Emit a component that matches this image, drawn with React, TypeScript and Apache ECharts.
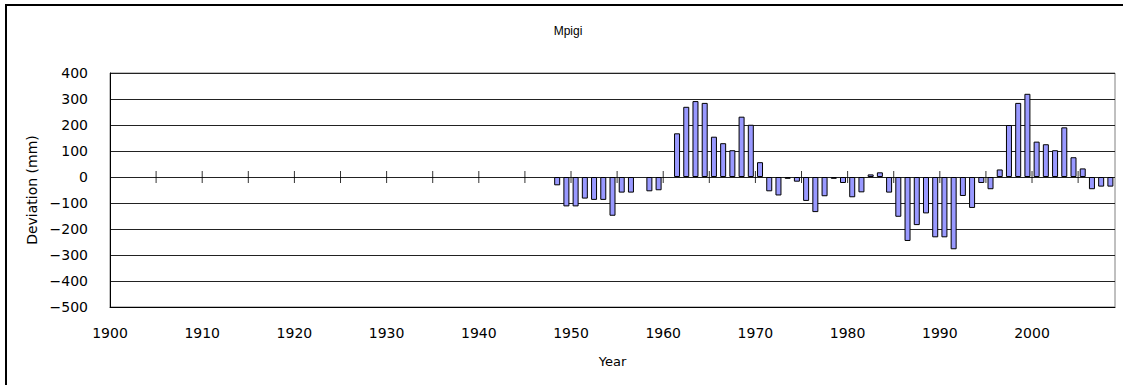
import React, { useEffect, useRef } from "react";
import * as echarts from "echarts";

const title = "Mpigi";
const firstYear = 1900;
const lastYear = 2008;
const dataStartYear = 1948;
// Deviation (mm) for 1948..2008 (null = no bar)
const deviations: (number | null)[] = [
  -32, -113, -113, -83, -88, -88, -149, -60, -60, null,
  -55, -51, null, 168, 270, 292, 285, 155, 130, 103,
  232, 201, 57, -55, -71, -7, -18, -92, -135, -74,
  -7, -23, -78, -59, 10, 18, -60, -153, -246, -185,
  -140, -232, -232, -278, -73, -119, -23, -47, 29, 200,
  285, 320, 136, 126, 103, 191, 76, 33, -47, -37,
  -37,
];
const zeroTickYears = [1905, 1910, 1915, 1920, 1925, 1930, 1935, 1940, 1945, 1950, 1955, 1960, 1965, 1970, 1975, 1980, 1985, 1990, 1995, 2000, 2005];
const yMin = -500;
const yMax = 400;
const yStep = 100;
const xMin = 1900;
const xMax = 2009;
const xStep = 10;

const categories: string[] = [];
for (let y = firstYear; y <= lastYear; y++) categories.push(String(y));
const barValues: (number | null)[] = categories.map((c) => {
  const idx = Number(c) - dataStartYear;
  return idx >= 0 && idx < deviations.length ? deviations[idx] : null;
});

const FONT = "DejaVu Sans";

export default function App() {
  const ref = useRef<HTMLDivElement>(null);
  useEffect(() => {
    if (!ref.current) return;
    const chart = echarts.init(ref.current, undefined, { renderer: "svg" });
    chart.setOption({
      animation: false,
      backgroundColor: "#ffffff",
      title: {
        text: title,
        left: 563,
        top: 20,
        textAlign: "center",
        textStyle: { fontFamily: "Liberation Sans", fontSize: 12, fontWeight: "normal", color: "#000" },
      },
      grid: {
        left: 110,
        right: 8,
        top: 73,
        bottom: 78,
        show: true,
        borderColor: "#808080",
        borderWidth: 1,
        containLabel: false,
      },
      xAxis: [
        {
          type: "value",
          min: xMin,
          max: xMax,
          interval: xStep,
          position: "bottom",
          name: "Year",
          nameLocation: "middle",
          nameGap: 48,
          nameTextStyle: { fontFamily: FONT, fontSize: 13, color: "#000" },
          axisLine: { onZero: false, show: true, lineStyle: { color: "#000", width: 1 } },
          axisTick: { show: false },
          splitLine: { show: false },
          axisLabel: {
            showMaxLabel: false,
            margin: 19,
            fontFamily: FONT,
            fontSize: 14,
            color: "#000",
            formatter: (v: number) => String(v),
          },
        },
        {
          type: "category",
          data: categories,
          position: "bottom",
          boundaryGap: true,
          show: false,
          axisLine: { onZero: false },
        },
      ],
      yAxis: {
        type: "value",
        min: yMin,
        max: yMax,
        interval: yStep,
        name: "Deviation (mm)",
        nameLocation: "middle",
        nameGap: 68,
        nameTextStyle: { fontFamily: FONT, fontSize: 14, color: "#000" },
        axisLine: { show: true, lineStyle: { color: "#000", width: 1 } },
        axisTick: { show: false },
        splitLine: { show: true, lineStyle: { color: "#222", width: 1 } },
        axisLabel: {
          margin: 22,
          fontFamily: FONT,
          fontSize: 14,
          color: "#000",
          formatter: (v: number) => String(v).replace("-", "\u2212"),
        },
      },
      series: [
        {
          type: "bar",
          xAxisIndex: 1,
          data: barValues,
          barWidth: 6,
          itemStyle: { color: "#9999FF", borderColor: "#000", borderWidth: 1 },
          z: 2,
        },
        {
          type: "scatter",
          xAxisIndex: 0,
          data: zeroTickYears.map((y) => [y, 0]),
          symbol: "rect",
          symbolSize: [1, 12],
          itemStyle: { color: "#000" },
          z: 3,
        },
      ],
      graphic: [
        { type: "line", shape: { x1: 5, y1: 5, x2: 1123, y2: 5 }, style: { stroke: "#000", lineWidth: 2 } },
        { type: "line", shape: { x1: 6, y1: 4, x2: 6, y2: 385 }, style: { stroke: "#000", lineWidth: 2 } },
      ],
    });
    return () => chart.dispose();
  }, []);
  return (
    <div
      ref={ref}
      style={{ position: "fixed", left: 0, top: 0, width: 1123, height: 385, background: "#fff" }}
    />
  );
}
